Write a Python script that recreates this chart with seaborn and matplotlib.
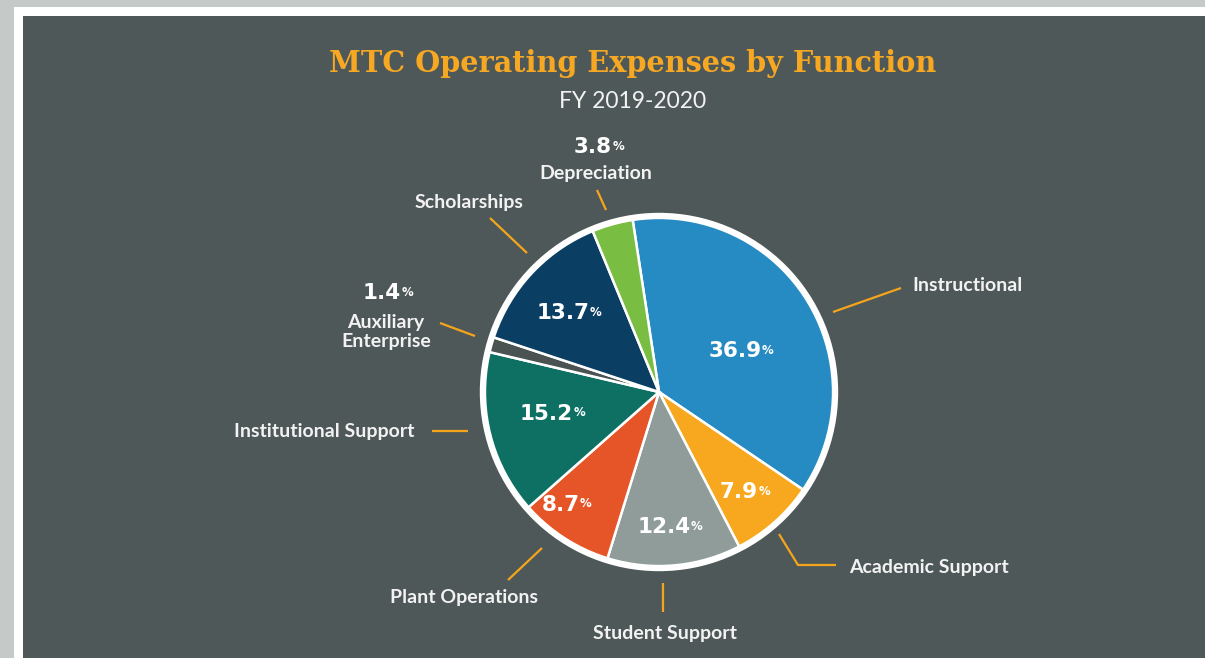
import matplotlib
matplotlib.use("Agg")
import matplotlib.pyplot as plt
from matplotlib.patches import Rectangle, Circle
import numpy as np
import seaborn as sns

# ---------------- data ----------------
categories = ["Instructional", "Academic Support", "Student Support", "Plant Operations",
              "Institutional Support", "Auxiliary Enterprise", "Scholarships", "Depreciation"]
values = [36.9, 7.9, 12.4, 8.7, 15.2, 1.4, 13.7, 3.8]
pct_labels = ["36.9", "7.9", "12.4", "8.7", "15.2", "1.4", "13.7", "3.8"]
slice_colors = ["#258bc2", "#f8a81e", "#8f9c9a", "#e55527", "#0e7063", "#4a5252", "#0b3e63", "#7abd43"]
title = "MTC Operating Expenses by Function"
subtitle = "FY 2019-2020"

# ---------------- style ----------------
sns.set_theme(style="white")
plt.rcParams['font.family'] = ['Lato', 'DejaVu Sans']

W, H = 1205, 658
PANEL = "#4f5858"
ORANGE = "#f5a51c"
TXT = "#f2f2f2"

fig = plt.figure(figsize=(W / 100, H / 100), dpi=100)
fig.patch.set_facecolor("#c5cac9")
ax = fig.add_axes([0, 0, 1, 1])


def P(x, y):
    """image pixel coords (y down) -> axes coords (y up)"""
    return (x, H - y)


ax.add_patch(Rectangle((14, 0), W - 14, H - 7, facecolor="white", edgecolor="none", zorder=0))
ax.add_patch(Rectangle((23, 0), W - 23, H - 16, facecolor=PANEL, edgecolor="none", zorder=0))

cx, cy = P(659, 392)
R = 176
palette = sns.color_palette(slice_colors)
start = 98.7
wedges, _ = ax.pie(values, colors=palette, startangle=start, counterclock=False,
                   radius=R, center=(cx, cy), frame=True,
                   wedgeprops=dict(edgecolor="white", linewidth=1.8))
for w in wedges:
    w.set_zorder(2)
ax.add_patch(Circle((cx, cy), R, fill=False, edgecolor="white", linewidth=4.6, zorder=3))

ax.set_xlim(0, W)
ax.set_ylim(0, H)
ax.set_aspect("auto")
ax.axis("off")

renderer = fig.canvas.get_renderer()


def pct_text(x, y, num):
    t = ax.text(x - 6, y, num, ha="center", va="center", color="white",
                fontsize=15.5, fontweight="bold", family=["DejaVu Sans"], zorder=5)
    bb = t.get_window_extent(renderer)
    ax.text(bb.x1 + 0.5, bb.y1 - 2.5, "%", ha="left", va="top", color="white",
            fontsize=8.5, fontweight="bold", family=["DejaVu Sans"], zorder=5)


# inner percentage labels placed along each wedge's mid angle
label_dist = [0.52, 0.75, 0.77, 0.83, 0.62, None, 0.68, None]
label_rot = [-6, -1, -0.5, -6.5, -2.5, 0, 1.7, 0]
cum = start
for v, lab, d, rot in zip(values, pct_labels, label_dist, label_rot):
    ang = cum - v * 3.6 / 2
    cum -= v * 3.6
    if d is None:
        continue
    a = np.deg2rad(ang + rot)
    pct_text(cx + d * R * np.cos(a), cy + d * R * np.sin(a), lab)

# outer labels with leader lines (annotation layout)
outer = {
    "Instructional": dict(pos=(912, 285.5), ha="left", line=[(833, 312), (901, 288)]),
    "Academic Support": dict(pos=(849, 567.5), ha="left", line=[(779, 534), (798, 565), (836, 565)]),
    "Student Support": dict(pos=(665, 633.5), ha="center", line=[(663, 583), (663, 612)]),
    "Plant Operations": dict(pos=(464, 597.5), ha="center", line=[(542, 548), (508, 580)]),
    "Institutional Support": dict(pos=(414, 431.5), ha="right", line=[(432, 431), (468, 431)]),
    "Auxiliary Enterprise": dict(pos=(386, 332), ha="center", line=[(440, 323), (475, 336)],
                                 text="Auxiliary\nEnterprise", pct=(385, 293)),
    "Scholarships": dict(pos=(469, 202.5), ha="center", line=[(490, 218), (527, 253)]),
    "Depreciation": dict(pos=(596, 173.5), ha="center", line=[(597, 190), (606, 210)], pct=(596, 147)),
}
for cat, lab in zip(categories, pct_labels):
    o = outer[cat]
    x, y = P(*o["pos"])
    ax.text(x, y, o.get("text", cat), ha=o["ha"], va="center", color=TXT,
            fontsize=14, fontweight="bold", linespacing=1.2, zorder=5)
    pts = [P(*p) for p in o["line"]]
    ax.plot([p[0] for p in pts], [p[1] for p in pts], color=ORANGE, lw=1.6,
            solid_capstyle="butt", zorder=4)
    if "pct" in o:
        px, py = P(*o["pct"])
        pct_text(px + 3, py, lab)

ax.text(*P(633, 64), title, ha="center", va="center", color="#f7a823",
        fontsize=20.7, fontweight="bold", family=["DejaVu Serif"], zorder=5)
ax.text(*P(633, 101), subtitle, ha="center", va="center", color=TXT,
        fontsize=16.5, zorder=5)

fig.savefig("out.png", dpi=100, facecolor=fig.get_facecolor())
